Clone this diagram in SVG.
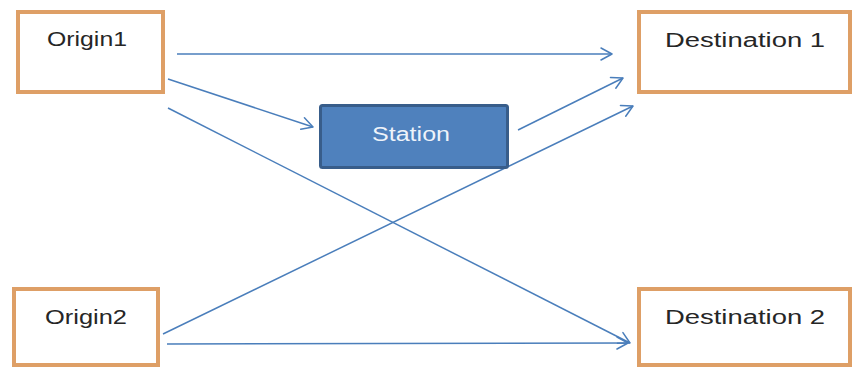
<svg xmlns="http://www.w3.org/2000/svg" width="854" height="369" viewBox="0 0 854 369">
  <style>
    .endpoint rect { fill: #ffffff; stroke: #DE9F66; stroke-width: 4; }
    .station rect { fill: #4F81BD; stroke: #385D8A; stroke-width: 3; }
    .label { font-family: "Liberation Sans", Arial, sans-serif; font-size: 20px; fill: #262626; }
    .station .label { fill: #EEF3FA; }
    .flow line { stroke: #4A7EBB; stroke-width: 1.5; fill: none; marker-end: url(#open-arrow); }
  </style>
  <defs>
    <marker id="open-arrow" markerUnits="userSpaceOnUse" markerWidth="14" markerHeight="14" viewBox="-12 -7 14 14" refX="0" refY="0" orient="auto">
      <path d="M -11 -6 L 0 0 L -11 6" fill="none" stroke="#4A7EBB" stroke-width="1.5" stroke-linecap="round" stroke-linejoin="round"/>
    </marker>
  </defs>
  <rect width="854" height="369" fill="#ffffff"/>

  <!-- connectors -->
  <g id="connectors" class="flow">
    <line x1="177" y1="54" x2="612" y2="54"/>
    <line x1="168" y1="79" x2="313" y2="127"/>
    <line x1="168" y1="108" x2="630" y2="343"/>
    <line x1="163" y1="334" x2="633" y2="106"/>
    <line x1="518" y1="130" x2="623" y2="78"/>
    <line x1="167" y1="344" x2="628" y2="343"/>
  </g>

  <!-- nodes -->
  <g id="origin1" class="endpoint">
    <rect x="18" y="12" width="145" height="80"/>
    <text class="label" x="47" y="46" textLength="80" lengthAdjust="spacingAndGlyphs">Origin1</text>
  </g>
  <g id="origin2" class="endpoint">
    <rect x="14" y="289" width="144" height="76"/>
    <text class="label" x="45" y="324" textLength="82" lengthAdjust="spacingAndGlyphs">Origin2</text>
  </g>
  <g id="station" class="station">
    <rect x="320.5" y="105.5" width="187" height="62" rx="2"/>
    <text class="label" x="372" y="141" textLength="78" lengthAdjust="spacingAndGlyphs">Station</text>
  </g>
  <g id="destination1" class="endpoint">
    <rect x="639" y="12" width="211" height="80"/>
    <text class="label" x="665" y="47" textLength="160" lengthAdjust="spacingAndGlyphs">Destination 1</text>
  </g>
  <g id="destination2" class="endpoint">
    <rect x="639" y="289" width="211" height="76"/>
    <text class="label" x="665" y="324" textLength="160" lengthAdjust="spacingAndGlyphs">Destination 2</text>
  </g>
</svg>
